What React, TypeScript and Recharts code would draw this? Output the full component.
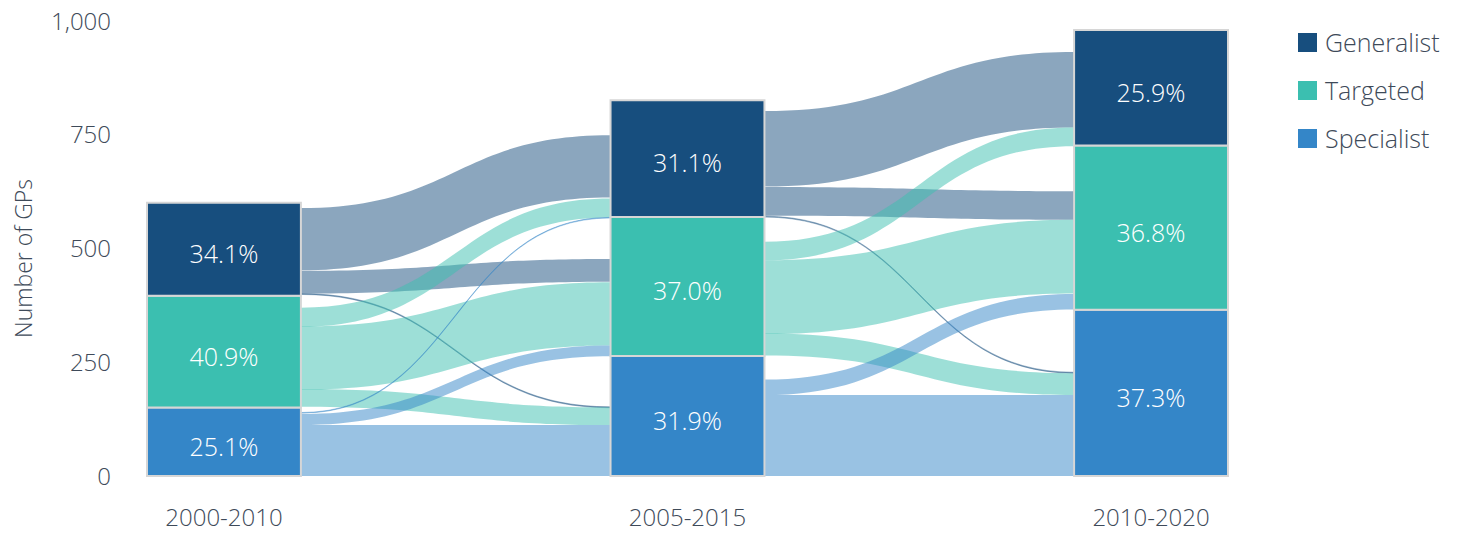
import { ComposedChart, Area, XAxis, YAxis, ReferenceArea, Label, Legend } from 'recharts';

const periods = ['2000-2010', '2005-2015', '2010-2020'];
const gpTotals = [600, 826, 980];
const categories = ['Generalist', 'Targeted', 'Specialist'];
const generalistShare = [34.1, 31.1, 25.9];
const targetedShare = [40.9, 37.0, 36.8];
const specialistShare = [25.1, 31.9, 37.3];
const yTicks = [0, 250, 500, 750, 1000];

// flows between two periods: [from, to, GPs, base at left bar, base at right bar]
// 0 = Generalist, 1 = Targeted, 2 = Specialist
const flowsFirstStep = [
  [0, 0, 137, 452, 612],
  [0, 1, 50, 401, 427],
  [0, 2, 2, 399, 150],
  [1, 0, 42, 328, 568],
  [1, 1, 139, 190, 287],
  [1, 2, 39, 152, 112],
  [2, 0, 1.5, 138, 567],
  [2, 1, 24, 112, 263],
  [2, 2, 112, 0, 0],
];
const flowsSecondStep = [
  [0, 0, 166, 636, 766],
  [0, 1, 63, 572, 563],
  [0, 2, 2, 569, 226],
  [1, 0, 41, 474, 725],
  [1, 1, 162, 312, 401],
  [1, 2, 48, 265, 178],
  [2, 1, 34, 178, 366],
  [2, 2, 178, 0, 0],
];

const COLORS = ['#174e7e', '#3bbfb0', '#3486c8'];
const BORDER = '#d6d6d6';
const TEXT = '#3e4a59';
const FONT = '"Open Sans", sans-serif';
const HALF = 0.166;

const shares = [generalistShare, targetedShare, specialistShare];

// stacked segments: specialist at the bottom, generalist on top
const segments = periods.flatMap((p, i) => {
  let base = 0;
  return [2, 1, 0].map((c) => {
    const v = (gpTotals[i] * shares[c][i]) / 100;
    const seg = { period: i, cat: c, low: base, high: base + v, pct: shares[c][i] };
    base += v;
    return seg;
  });
});

const flowSeries = [flowsFirstStep, flowsSecondStep].flatMap((list, step) =>
  list.map(([from, to, gps, left, right]) => ({
    key: `f${step}-${from}-${to}`,
    from,
    thin: gps < 5,
    data: [
      { x: step + HALF, band: [left, left + gps] },
      { x: step + 1 - HALF, band: [right, right + gps] },
    ],
  }))
);

const LegendBox = () => (
  <div style={{ fontFamily: FONT, fontSize: 25, fontWeight: 300, color: TEXT }}>
    {categories.map((c, i) => (
      <div key={c} style={{ display: 'flex', alignItems: 'center', height: 48 }}>
        <span style={{ width: 19, height: 19, background: COLORS[i], marginRight: 8, display: 'inline-block' }} />
        {c}
      </div>
    ))}
  </div>
);

export default function App() {
  return (
    <div style={{ position: 'absolute', left: 0, top: 0 }}>
      <ComposedChart width={1460} height={533} margin={{ top: 21, right: 232, bottom: 4, left: 0 }}>
        <XAxis
          type="number"
          dataKey="x"
          domain={[-HALF, 2 + HALF]}
          allowDataOverflow
          ticks={[0, 1, 2]}
          tickFormatter={(v) => periods[v]}
          axisLine={false}
          tickLine={false}
          tickMargin={27}
          height={53}
          tick={{ fill: TEXT, fontSize: 24, fontFamily: FONT, fontWeight: 300 }}
        />
        <YAxis
          type="number"
          domain={[0, 1000]}
          ticks={yTicks}
          width={147}
          axisLine={false}
          tickLine={false}
          tickMargin={30}
          tickFormatter={(v) => v.toLocaleString('en-US')}
          tick={{ fill: TEXT, fontSize: 24, fontFamily: FONT, fontWeight: 300 }}
        >
          <Label
            value="Number of GPs"
            angle={-90}
            position="center"
            dx={-50}
            dy={10}
            style={{ fill: TEXT, fontSize: 23, fontFamily: FONT, fontWeight: 300 }}
          />
        </YAxis>
        <Legend
          layout="vertical"
          align="center"
          verticalAlign="middle"
          wrapperStyle={{ left: 1298, top: 18, width: 170 }}
          content={<LegendBox />}
        />
        {flowSeries.map((f) => (
          <Area
            key={f.key}
            data={f.data}
            dataKey="band"
            type="bumpX"
            fill={COLORS[f.from]}
            fillOpacity={0.5}
            stroke={f.thin ? COLORS[f.from] : 'none'}
            strokeOpacity={0.45}
            strokeWidth={0.8}
            dot={false}
            activeDot={false}
            legendType="none"
            isAnimationActive={false}
          />
        ))}
        {segments.map((s) => (
          <ReferenceArea
            key={`b${s.period}-${s.cat}`}
            x1={s.period - HALF}
            x2={s.period + HALF}
            y1={s.low}
            y2={s.high}
            fill={COLORS[s.cat]}
            fillOpacity={1}
            stroke={BORDER}
            strokeWidth={2}
            label={{
              value: `${s.pct.toFixed(1)}%`,
              position: 'center',
              dy: 5,
              fill: '#ffffff',
              fontSize: 25,
              fontFamily: FONT,
              fontWeight: 300,
            }}
          />
        ))}
      </ComposedChart>
    </div>
  );
}
